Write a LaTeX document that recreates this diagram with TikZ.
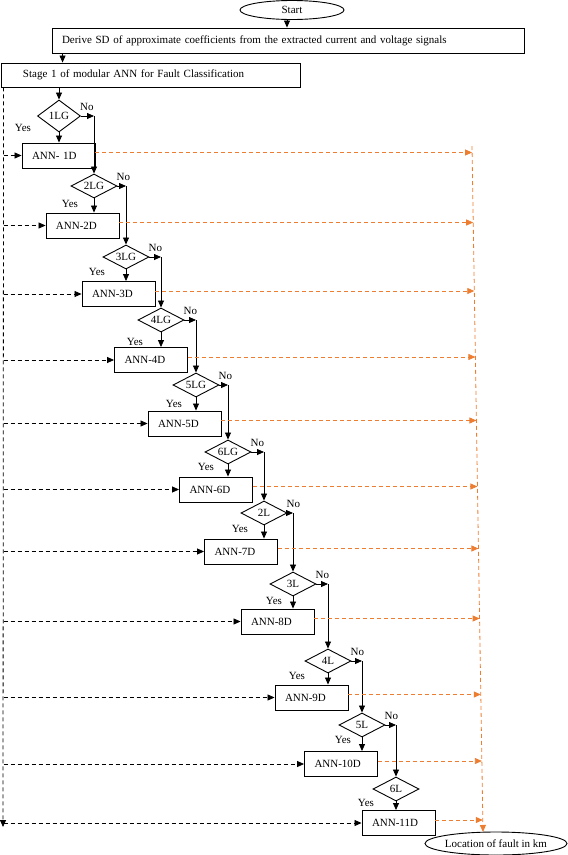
\documentclass[tikz,border=0pt]{standalone}
\usepackage{fontspec}
\setmainfont{Liberation Serif}
\usetikzlibrary{shapes.geometric,arrows.meta,calc}
\definecolor{ornge}{RGB}{237,125,49}
\begin{document}
\begin{tikzpicture}[x=1pt,y=-1pt,
  every node/.style={font=\fontsize{11}{13}\selectfont},
  box/.style={draw, line width=0.9pt, minimum height=25pt, inner sep=0pt},
  ann/.style={box, text width=53pt, inner xsep=10pt, align=left},
  dia/.style={draw, line width=0.9pt, diamond, aspect=2, inner sep=0pt, minimum width=46pt, minimum height=24pt},
  oval/.style={draw, line width=0.9pt, ellipse, inner sep=0pt},
  arr/.style={line width=0.8pt, -{Triangle[length=7pt,width=6pt]}},
  bdash/.style={arr, dash pattern=on 4pt off 3pt},
  odash/.style={arr, ornge, dash pattern=on 4pt off 3pt},
  lbl/.style={inner sep=0pt}
]
\useasboundingbox (0,0) rectangle (568,855);

% top nodes
\node[oval, minimum width=104pt, minimum height=19pt] (start) at (292,10) {\makebox[0pt]{Start}};
\node[box, text width=452pt, inner xsep=10pt, align=left] (derive) at (288,40.5)
  {Derive SD of approximate coefficients from the extracted current and voltage signals};
\node[box, text width=255pt, inner xsep=22pt, align=left, minimum height=24pt] (stage) at (150.5,75)
  {Stage 1 of modular ANN for Fault Classification};

% decision diamonds
\node[dia, minimum width=43pt, minimum height=32pt] (d1) at (59,116) {1LG};
\node[dia] (d2) at (94,186) {2LG};
\node[dia] (d3) at (126,257) {3LG};
\node[dia] (d4) at (161,320) {4LG};
\node[dia] (d5) at (196,385) {5LG};
\node[dia] (d6) at (228,452) {6LG};
\node[dia] (d7) at (264,513) {2L};
\node[dia] (d8) at (293,584) {3L};
\node[dia] (d9) at (328,661) {4L};
\node[dia] (d10) at (362,725) {5L};
\node[dia] (d11) at (396,789) {6L};

% ANN boxes
\node[ann] (a1) at (58.5,155.5) {ANN- 1D};
\node[ann] (a2) at (82.5,225.5) {ANN-2D};
\node[ann] (a3) at (118.5,294) {ANN-3D};
\node[ann] (a4) at (151,360) {ANN-4D};
\node[ann] (a5) at (184.5,423.5) {ANN-5D};
\node[ann] (a6) at (216,489.5) {ANN-6D};
\node[ann] (a7) at (241,551.5) {ANN-7D};
\node[ann] (a8) at (277.5,621.5) {ANN-8D};
\node[ann] (a9) at (311.5,697.5) {ANN-9D};
\node[ann] (a10) at (341,764) {ANN-10D};
\node[ann] (a11) at (398.5,823) {ANN-11D};

\node[oval, minimum width=142pt, minimum height=23pt] (loc) at (496,843.5) {\makebox[0pt]{Location of fault in km}};

% main flow
\draw[arr] ([xshift=-5pt]start.south) -- ([xshift=-5pt]start.south |- derive.north);
\draw[arr] ([xshift=11pt]derive.south west) -- ([xshift=11pt]derive.south west |- stage.north);
\draw[arr] (stage.south -| d1.north) -- (d1.north);

\foreach \i in {1,...,11}
  \draw[arr] (d\i.south) -- (d\i.south |- a\i.north);

\foreach \i/\j in {1/2,2/3,3/4,4/5,5/6,6/7,7/8,8/9,9/10,10/11}{
  \draw[arr] (d\i.east) -- (d\i.east -| d\j.north);
  \draw[arr] (d\i.east -| d\j.north) -- (d\j.north);
  \node[lbl] at ($(d\i.east)+(6,-9)$) {No};
}

% Yes labels
\foreach \i/\px/\py in {1/23/128,2/70/204,3/97/272,4/135/342,5/174/404,6/206/467,
                         7/240/529,8/274/601,9/297/676,10/343/740,11/366/803}
  \node[lbl] (y\i) at (\px,\py) {Yes};

% black dashed feed
\coordinate (ltop) at ([xshift=3pt]stage.south west);
\coordinate (lbot) at (3,827);
\draw[bdash] (ltop) -- (lbot);
\foreach \i in {1,...,11}
  \draw[bdash] (a\i.west -| ltop) -- (a\i.west);

% orange outputs
\foreach \i/\ox in {1/472.1,2/473.2,3/474.3,4/475.4,5/476.4,6/477.4,7/478.4,8/479.6,9/480.8,10/481.9,11/482.8}{
  \coordinate (o\i) at (\ox,0);
  \draw[odash] ([yshift=3pt]a\i.east) -- ([yshift=3pt]a\i.east -| o\i);
}
\coordinate (otop) at (472,146);
\coordinate (obot) at (483,832);
\draw[odash] (otop) -- (obot);
\end{tikzpicture}
\end{document}
